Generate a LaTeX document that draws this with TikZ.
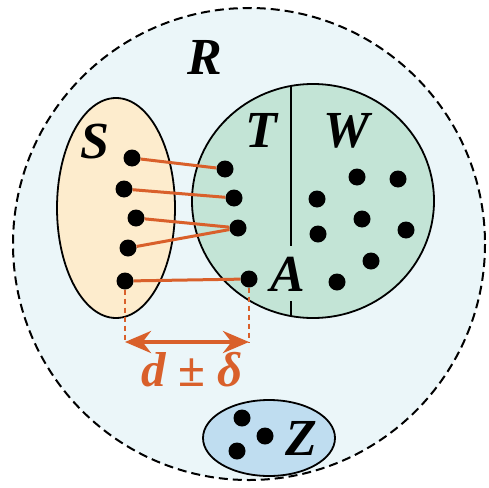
\documentclass[tikz,border=0pt]{standalone}
\usepackage{fontspec}
\setmainfont{Liberation Serif}
\usetikzlibrary{arrows.meta}
\definecolor{regfill}{RGB}{235,246,249}
\definecolor{sfill}{RGB}{253,236,205}
\definecolor{twfill}{RGB}{195,228,214}
\definecolor{zfill}{RGB}{191,221,240}
\definecolor{linkor}{RGB}{217,96,43}
\tikzset{
  dot/.style={circle,fill=black,inner sep=0pt,minimum size=17pt},
  setlabel/.style={font=\fontsize{52}{58}\selectfont\bfseries\itshape,inner sep=0pt},
  link/.style={draw=linkor,line width=3pt},
  drop/.style={draw=linkor,line width=2.6pt,dash pattern=on 5pt off 4pt},
  border/.style={draw=black,line width=1.8pt}
}
\begin{document}
\begin{tikzpicture}[x=1pt,y=-1pt]
  \useasboundingbox (0,0) rectangle (489,487);
  % region R
  \filldraw[fill=regfill,draw=black,line width=2pt,dash pattern=on 9pt off 5pt]
     (249,244) circle (236);
  % the sets
  \filldraw[border,fill=sfill] (116,208) ellipse [x radius=59,y radius=110];
  \filldraw[border,fill=twfill] (313,201) ellipse [x radius=121,y radius=117];
  \filldraw[border,fill=zfill] (269,438) ellipse [x radius=66,y radius=38];
  \draw[line width=1.8pt] (291,86) -- (291,246);
  \draw[line width=1.8pt] (291,301) -- (291,316);
  % labels
  \node[setlabel] (lR) at (205,57) {R};
  \node[setlabel] (lS) at (95,142) {S};
  \node[setlabel] (lT) at (261,130) {T};
  \node[setlabel] (lW) at (347,131) {W};
  \node[setlabel] (lA) at (288,274) {A};
  \node[setlabel] (lZ) at (301,438) {Z};
  % points of S
  \node[dot] (s1) at (132,158) {};
  \node[dot] (s2) at (124,189) {};
  \node[dot] (s3) at (136,218) {};
  \node[dot] (s4) at (128,248) {};
  \node[dot] (s5) at (125,281) {};
  % points of T
  \node[dot] (t1) at (225,169) {};
  \node[dot] (t2) at (234,198) {};
  \node[dot] (t3) at (238,228) {};
  \node[dot] (t4) at (249,279) {};
  % points of W
  \node[dot] (w1) at (317,199) {};
  \node[dot] (w2) at (357,177) {};
  \node[dot] (w3) at (398,179) {};
  \node[dot] (w4) at (362,219) {};
  \node[dot] (w5) at (318,234) {};
  \node[dot] (w6) at (406,230) {};
  \node[dot] (w7) at (371,261) {};
  \node[dot] (w8) at (337,282) {};
  % points of Z
  \node[dot] (z1) at (242,418) {};
  \node[dot] (z2) at (265,436) {};
  \node[dot] (z3) at (237,451) {};
  % matches
  \draw[link] (s1) -- (t1);
  \draw[link] (s2) -- (t2);
  \draw[link] (s3) -- (t3);
  \draw[link] (s4) -- (t3);
  \draw[link] (s5) -- (t4);
  % distance
  \coordinate (dl) at (125,342);
  \coordinate (dr) at (249,342);
  \draw[drop] (s5) -- (dl);
  \draw[drop] (t4) -- (dr);
  \draw[draw=linkor,line width=4pt,{Stealth[length=26pt,width=22pt]}-{Stealth[length=26pt,width=22pt]}]
     (dl) -- (dr);
  \node[setlabel,text=linkor,font=\fontsize{49}{55}\selectfont\bfseries\itshape] (dist) at (192,370) {d ± δ};
\end{tikzpicture}
\end{document}
